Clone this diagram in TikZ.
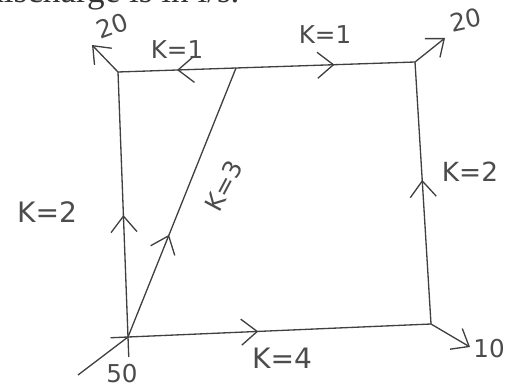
\documentclass[tikz,border=0pt]{standalone}
\usepackage{fontspec}
\setmainfont{Liberation Serif}
\newfontfamily\handfont{DejaVu Sans}
\usetikzlibrary{arrows.meta,decorations.markings}

\begin{document}
\begin{tikzpicture}[x=0.2mm,y=-0.2mm,
  pipe/.style={draw=black!75,line width=0.75pt},
  flowmark/.style={postaction={decorate},decoration={markings,
    mark=at position #1 with {\arrow{Straight Barb[length=3.2mm,width=5.2mm]}}}},
  outflow/.style={pipe,-{Straight Barb[length=3mm,width=4.8mm]}},
  klabel/.style={text=black!70,inner sep=0pt,font=\handfont\fontsize{14}{16}\selectfont}]

\useasboundingbox (0,0) rectangle (505,389);
\clip (0,0) rectangle (505,389);

% cut-off line of the page above
\node[anchor=base west,inner sep=0pt,text=black!80,font=\fontsize{20}{22}\selectfont]
  (pagetext) at (-14,3) {discharge is in l/s.};

% junctions
\coordinate (A) at (118,72);
\coordinate (E) at (236,68);
\coordinate (B) at (415,62);
\coordinate (D) at (431,324);
\coordinate (C) at (128,337);

% free ends of inflow and outflows
\coordinate (qin) at (78,375);
\coordinate (qA) at (92,45);
\coordinate (qB) at (445,38);
\coordinate (qD) at (470,347);

% pipes with flow directions
\draw[pipe,flowmark=0.5] (E) -- (A);
\draw[pipe,flowmark=0.55] (E) -- (B);
\draw[pipe,flowmark=0.46,shorten <=-4mm] (C) -- (A);
\draw[pipe,flowmark=0.38] (C) -- (E);
\draw[pipe,flowmark=0.55] (D) -- (B);
\draw[pipe,flowmark=0.43,shorten <=-3.5mm] (C) -- (D);

% inflow and outflows
\draw[pipe] (qin) -- (C);
\draw[outflow] (A) -- (qA);
\draw[outflow] (B) -- (qB);
\draw[outflow] (D) -- (qD);

% discharges
\node[klabel,rotate=20] (lA) at (112,26) {20};
\node[klabel,rotate=12] (lB) at (466,20) {20};
\node[klabel] (lD) at (489,349) {10};
\node[klabel] (lC) at (122,374) {50};

% pipe constants
\node[klabel] (kAE) at (177,50) {K=1};
\node[klabel] (kEB) at (325,35) {K=1};
\node[klabel,font=\handfont\fontsize{16}{18}\selectfont] (kCA) at (47,212) {K=2};
\node[klabel,font=\handfont\fontsize{15}{18}\selectfont] (kDB) at (470,172) {K=2};
\node[klabel,rotate=62] (kCE) at (224,186) {K=3};
\node[klabel,font=\handfont\fontsize{16}{18}\selectfont] (kCD) at (282,358) {K=4};

\end{tikzpicture}
\end{document}
